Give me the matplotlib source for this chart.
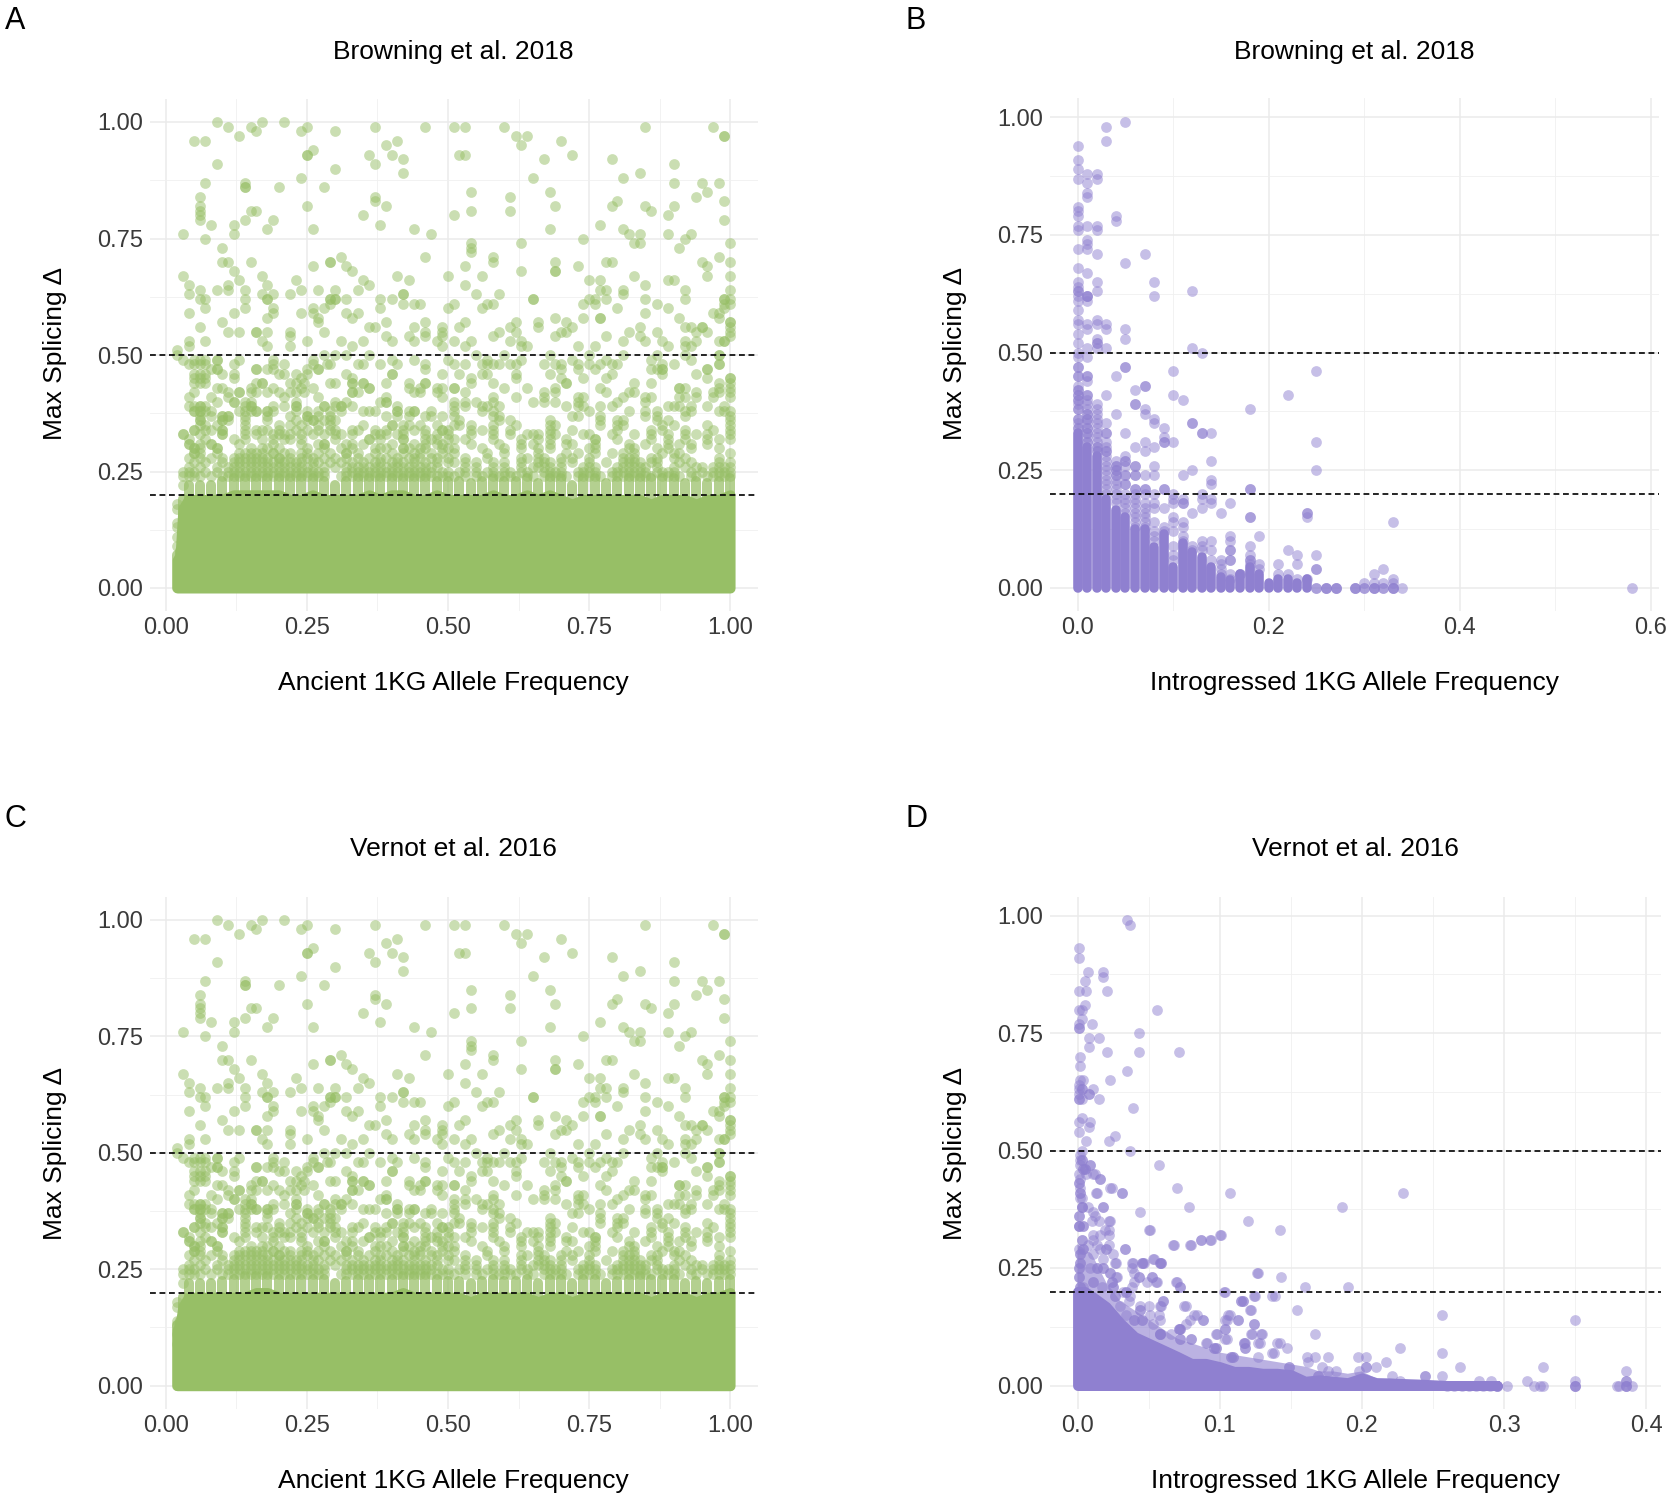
import matplotlib
matplotlib.use("Agg")
import matplotlib.pyplot as plt

plt.rcParams['font.family'] = ['Liberation Sans', 'DejaVu Sans']

W, H = 1670, 1500
GREEN = '#97BF66'
PURPLE = '#8F80D0'

titles = ['Browning et al. 2018', 'Browning et al. 2018', 'Vernot et al. 2016', 'Vernot et al. 2016']
letters = ['A', 'B', 'C', 'D']
xlabels = ['Ancient 1KG Allele Frequency', 'Introgressed 1KG Allele Frequency',
           'Ancient 1KG Allele Frequency', 'Introgressed 1KG Allele Frequency']
ylabel = 'Max Splicing Δ'
thresholds = [0.5, 0.2]

# ---- Ancient variants: points read from the upper, sparse part of the panel
anc_upper = [
 (.03,.76),(.05,.96),(.07,.96),(.09,1.0),(.11,.99),(.13,.97),(.15,.99),(.16,.98),(.17,1.0),(.21,1.0),(.24,.98),(.25,.99),
 (.26,.94),(.25,.93),(.25,.93),(.30,.98),(.37,.99),(.36,.93),(.37,.91),(.39,.95),(.40,.93),(.41,.96),(.42,.92),(.42,.89),
 (.46,.99),(.51,.99),(.53,.99),(.52,.93),(.53,.93),(.60,.99),(.62,.97),(.64,.97),(.63,.95),(.67,.92),(.70,.96),(.72,.93),
 (.65,.88),(.79,.92),(.81,.88),(.84,.89),(.85,.99),(.90,.91),(.97,.99),(.99,.97),(.99,.97),(.09,.91),(.07,.87),(.24,.88),
 (.30,.90),(.14,.87),(.14,.86),(.14,.86),(.20,.86),(.28,.86),(.06,.84),(.06,.82),(.06,.81),(.06,.80),(.06,.79),(.07,.75),
 (.08,.78),(.12,.78),(.12,.76),(.14,.79),(.15,.81),(.16,.81),(.19,.79),(.18,.77),(.25,.82),(.26,.77),(.35,.80),(.37,.84),
 (.37,.83),(.39,.82),(.38,.78),(.44,.77),(.47,.76),(.51,.80),(.54,.85),(.54,.81),(.61,.84),(.61,.81),(.68,.85),(.69,.82),
 (.68,.77),(.77,.78),(.79,.82),(.80,.83),(.81,.77),(.82,.76),(.84,.76),(.85,.82),(.86,.81),(.83,.74),(.84,.74),(.89,.80),
 (.89,.76),(.90,.82),(.90,.87),(.94,.84),(.95,.87),(.96,.85),(.98,.87),(.99,.83),(.99,.79),(.93,.76),(.92,.75),(.91,.73),
 (1.0,.74),(.74,.75),(.10,.73),(.10,.70),(.11,.70),(.15,.70),(.12,.68),(.13,.66),(.11,.65),(.11,.64),(.09,.64),(.03,.67),
 (.04,.65),(.04,.63),(.06,.64),(.06,.62),(.07,.62),(.07,.60),(.04,.59),(.10,.57),(.06,.56),(.11,.55),(.13,.55),(.16,.55),
 (.16,.55),(.18,.55),(.07,.53),(.04,.53),(.04,.52),(.02,.51),(.17,.67),(.18,.65),(.14,.64),(.14,.62),(.14,.60),(.17,.63),
 (.19,.63),(.18,.62),(.18,.62),(.19,.60),(.19,.59),(.18,.58),(.12,.59),(.22,.63),(.23,.66),(.24,.64),(.26,.69),(.29,.70),
 (.29,.70),(.31,.71),(.32,.69),(.33,.68),(.35,.66),(.36,.65),(.34,.64),(.27,.64),(.30,.64),(.29,.62),(.29,.62),(.30,.62),
 (.30,.62),(.32,.62),(.28,.60),(.29,.61),(.26,.60),(.26,.59),(.24,.59),(.27,.58),(.27,.57),(.32,.59),(.34,.59),(.33,.58),
 (.28,.55),(.22,.55),(.22,.54),(.22,.52),(.25,.53),(.18,.52),(.17,.53),(.38,.62),(.38,.60),(.40,.62),(.42,.63),(.42,.63),
 (.42,.61),(.44,.61),(.45,.61),(.41,.67),(.43,.66),(.39,.57),(.36,.56),(.37,.56),(.35,.53),(.31,.53),(.33,.52),(.39,.54),
 (.40,.53),(.46,.71),(.50,.67),(.50,.60),(.51,.61),(.53,.69),(.53,.65),(.54,.74),(.54,.73),(.54,.72),(.56,.67),(.58,.71),
 (.58,.70),(.55,.63),(.59,.63),(.57,.61),(.58,.61),(.56,.60),(.46,.57),(.46,.55),(.46,.54),(.44,.56),(.43,.54),(.44,.53),
 (.49,.56),(.49,.55),(.49,.54),(.48,.53),(.49,.52),(.52,.56),(.53,.57),(.51,.53),(.53,.52),(.54,.53),(.58,.54),(.59,.55),
 (.63,.74),(.63,.68),(.65,.62),(.65,.62),(.69,.70),(.69,.68),(.69,.68),(.73,.69),(.75,.66),(.77,.66),(.77,.64),(.78,.64),
 (.78,.70),(.79,.70),(.74,.61),(.75,.62),(.76,.62),(.76,.61),(.78,.62),(.80,.60),(.81,.64),(.81,.63),(.83,.67),(.85,.65),
 (.85,.62),(.87,.61),(.85,.59),(.89,.60),(.89,.66),(.90,.66),(.92,.64),(.92,.62),(.91,.58),(.95,.70),(.96,.69),(.96,.67),
 (.98,.71),(1.0,.70),(1.0,.67),(1.0,.64),(.99,.62),(.99,.62),(1.0,.62),(.99,.61),(1.0,.61),(.99,.60),(.97,.59),(.98,.59),
 (.98,.58),(1.0,.57),(1.0,.57),(1.0,.56),(1.0,.55),(1.0,.54),(.99,.53),(.99,.53),(.98,.53),(.62,.57),(.61,.56),(.62,.55),
 (.61,.53),(.63,.53),(.63,.52),(.64,.52),(.66,.57),(.66,.56),(.69,.58),(.71,.57),(.72,.56),(.70,.55),(.71,.55),(.69,.54),
 (.74,.58),(.77,.58),(.77,.58),(.78,.54),(.81,.53),(.82,.55),(.84,.56),(.84,.54),(.85,.53),(.87,.55),(.88,.53),(.89,.52),
 (.92,.56),(.93,.56),(.95,.56),(.95,.56),(.94,.55),(.96,.55),(.92,.53),(.92,.52),(.93,.52),(.94,.53),(.73,.52),(.76,.52),
 (.02,.18),(.02,.17),(.02,.14),(.02,.13),(.02,.11),(.02,.09),(.03,.33),(.03,.25),(.04,.28),(.04,.31),(.03,.22),(.03,.24),
]

# Ancient variants, y level followed by the x values read at that level
anc_rows = [
 (.50,[.02,.28,.30,.32,.36,.55,.60,.68,.75,.81,.87,.92,.98,.98]),
 (.49,[.03,.05,.06,.07,.09,.09,.13,.19,.26,.40,.44,.50,.57,.63,.72,.78,.86,.93]),
 (.48,[.04,.05,.06,.07,.12,.19,.21,.26,.285,.29,.34,.35,.38,.41,.46,.51,.53,.56,.57,.58,.59,.61,.62,.67,.69,.70,.73,.75,.77,.79,.80,.88,.90,.98,.98]),
 (.47,[.08,.09,.09,.16,.16,.18,.19,.25,.27,.27,.46,.70,.73,.76,.86,.87,.88,.88,.96,.96]),
 (.46,[.05,.06,.07,.10,.12,.20,.21,.23,.25,.32,.40,.40,.49,.52,.56,.57,.62,.68,.79,.88,.94]),
 (.45,[.05,.06,.07,.12,.24,.33,.54,.62,.70,.74,.78,.96,1.0,1.0]),
 (.44,[.05,.06,.07,.17,.17,.16,.22,.23,.245,.29,.30,.33,.33,.35,.35,.39,.43,.46,.46,.54,.58,.71,.71,.86,.83,.98,1.0]),
 (.43,[.09,.10,.15,.19,.24,.26,.36,.36,.43,.45,.48,.49,.51,.51,.60,.64,.69,.77,.91,.91,.92,.98,1.0]),
 (.42,[.05,.11,.13,.13,.16,.15,.18,.20,.22,.23,.245,.33,.33,.34,.44,.45,.48,.53,.67,.69,.78,.83,.82,.94,.97,.98,1.0]),
 (.41,[.04,.08,.11,.21,.27,.49,.39,.58,.62,.67,.73,.74,.81,.85,.86,.91,.92,.94,.97,1.0]),
 (.40,[.09,.12,.12,.14,.15,.23,.30,.32,.38,.39,.39,.51,.53,.55,.58,.65,.67,.69,.73,.80,.85]),
 (.39,[.04,.05,.06,.06,.07,.14,.15,.15,.19,.21,.23,.23,.28,.28,.30,.31,.31,.33,.41,.51,.53,.56,.57,.59,.71,.73,.74,.77,.79,.89,.90,.91,.93,.96,.99]),
 (.38,[.05,.05,.06,.06,.07,.08,.13,.14,.15,.16,.16,.18,.18,.19,.23,.25,.27,.29,.31,.35,.36,.37,.41,.41,.43,.44,.44,.47,.51,.56,.58,.75,.82,.85,.87,.92,.93,.98,.99,1.0]),
 (.37,[.06,.08,.10,.10,.11,.11,.14,.18,.22,.25,.25,.27,.29,.39,.41,.43,.46,.47,.49,.51,.58,.59,.72,.73,.77,.85,.87,.92,1.0]),
 (.36,[.06,.06,.10,.10,.11,.14,.18,.23,.26,.26,.25,.28,.29,.30,.52,.59,.61,.68,.77,.80,.81,.87,.89,1.0]),
 (.35,[.06,.07,.09,.14,.20,.22,.24,.27,.29,.35,.40,.40,.42,.43,.45,.48,.51,.52,.54,.58,.62,.68,.69,.77,.80,.81,.88,.90,.96,1.0]),
 (.34,[.05,.05,.07,.08,.10,.10,.14,.16,.17,.18,.20,.23,.25,.27,.29,.30,.33,.34,.37,.39,.42,.44,.46,.49,.49,.50,.54,.56,.58,.61,.68,.72,.80,.86,.88,.92,.97,1.0]),
 (.33,[.03,.06,.10,.10,.14,.16,.19,.20,.21,.22,.24,.26,.28,.30,.31,.33,.37,.38,.39,.41,.42,.46,.48,.50,.54,.58,.61,.64,.65,.66,.68,.69,.74,.75,.79,.83,.86,.89,.92,.94,.96,1.0]),
 (.32,[.04,.07,.12,.14,.17,.19,.21,.22,.24,.30,.36,.36,.38,.42,.42,.46,.47,.48,.50,.51,.53,.58,.63,.66,.68,.71,.76,.76,.80,.86,.89,.92,.96,.98,1.0]),
 (.31,[.04,.06,.08,.08,.13,.19,.24,.27,.28,.28,.32,.33,.35,.40,.44,.46,.48,.49,.54,.59,.63,.65,.68,.71,.72,.76,.82,.85,.89,.91,.93,.96]),
 (.30,[.05,.05,.06,.09,.09,.15,.17,.18,.20,.25,.28,.31,.33,.37,.38,.39,.42,.42,.43,.45,.46,.49,.50,.51,.56,.60,.63,.66,.68,.75,.76,.82,.83,.87,.89,.93,.98]),
 (.29,[.05,.05,.06,.09,.13,.14,.15,.16,.17,.19,.19,.21,.22,.24,.25,.27,.29,.32,.32,.34,.37,.40,.42,.44,.45,.47,.49,.51,.57,.60,.66,.71,.73,.76,.79,.81,.83,.88,.90,.91,1.0]),
 (.28,[.06,.08,.10,.12,.13,.14,.15,.16,.17,.18,.20,.20,.22,.24,.25,.26,.28,.30,.32,.34,.36,.38,.39,.41,.43,.44,.45,.47,.48,.50,.53,.57,.63,.64,.66,.67,.70,.72,.75,.81,.82,.83,.86,.87,.90,.92,.98]),
 (.27,[.05,.07,.10,.12,.13,.14,.15,.16,.17,.18,.19,.20,.21,.22,.23,.24,.26,.27,.29,.31,.33,.35,.37,.38,.40,.41,.42,.44,.46,.48,.50,.51,.53,.55,.58,.60,.63,.66,.67,.68,.70,.72,.75,.78,.81,.82,.83,.84,.86,.87,.91,.93,.98,1.0]),
 (.26,[.04,.06,.09,.11,.12,.13,.14,.15,.16,.17,.18,.19,.20,.21,.22,.23,.24,.25,.26,.28,.30,.32,.33,.34,.35,.36,.37,.38,.39,.40,.41,.42,.43,.44,.45,.46,.47,.48,.53,.55,.58,.60,.63,.65,.66,.67,.68,.70,.74,.75,.76,.80,.81,.82,.83,.84,.85,.87,.90,.92,.94,.95,.97,.98,.99,1.0]),
 (.25,[.04,.05,.07,.09,.11,.12,.13,.14,.15,.16,.17,.18,.19,.20,.21,.22,.23,.24,.25,.26,.27,.28,.32,.33,.34,.35,.36,.37,.38,.39,.40,.41,.42,.43,.44,.45,.46,.47,.49,.50,.52,.53,.55,.57,.58,.60,.61,.63,.64,.67,.68,.69,.70,.73,.74,.75,.76,.79,.80,.81,.82,.83,.84,.85,.87,.88,.89,.90,.93,.95,.97,.98,.99,1.0]),
 (.24,[.04,.05,.06,.08,.10,.11,.12,.13,.14,.15,.16,.17,.18,.19,.20,.21,.22,.23,.24,.25,.26,.27,.28,.31,.32,.33,.34,.35,.36,.37,.38,.39,.40,.41,.42,.43,.44,.45,.46,.47,.48,.49,.50,.51,.53,.55,.56,.58,.59,.60,.61,.62,.64,.65,.67,.68,.69,.70,.71,.73,.74,.75,.76,.77,.79,.80,.81,.82,.83,.84,.85,.86,.88,.89,.90,.91,.93,.94,.96,.97,.98,.99,1.0]),
]

# Ancient: columns of the mottled zone and top of the solid band below it
anc_band_x = [.02,.025,.03,.04,.06,.08,.10,.12,.14,.16,.18,.20,.22,.24,.26,.28,.30,.32,.34,.36,.38,.40,.42,.44,.46,.48,.50,.52,.54,.56,.58,.60,.62,.64,.66,.68,.70,.72,.74,.76,.78,.80,.82,.84,.86,.88,.90,.92,.94,.96,.98,1.0]
anc_solid_top = [.06,.07,.17,.19,.19,.19,.19,.20,.20,.20,.20,.20,.19,.19,.20,.19,.19,.19,.19,.20,.19,.20,.20,.19,.19,.20,.19,.19,.19,.19,.20,.19,.19,.20,.19,.20,.19,.18,.19,.19,.19,.19,.19,.19,.18,.19,.19,.19,.18,.19,.19,.20]
anc_soft_top = [.07,.08,.19,.22,.22,.22,.23,.235,.235,.235,.235,.235,.235,.235,.235,.23,.22,.23,.235,.235,.235,.235,.235,.235,.235,.23,.23,.23,.225,.23,.235,.23,.23,.235,.225,.235,.235,.22,.235,.235,.225,.23,.235,.235,.235,.235,.235,.225,.23,.225,.23,.235]
ver_anc_solid_top = [.12,.13,.17,.19,.19,.19,.19,.19,.19,.20,.20,.19,.19,.19,.19,.19,.19,.19,.19,.19,.19,.19,.20,.19,.19,.19,.19,.19,.18,.19,.19,.19,.19,.19,.18,.19,.19,.18,.19,.19,.19,.19,.19,.19,.18,.19,.19,.19,.18,.19,.19,.20]
ver_anc_soft_top = [.13,.14,.19,.22,.22,.22,.225,.23,.235,.235,.235,.23,.23,.23,.23,.23,.22,.225,.23,.23,.23,.23,.235,.235,.235,.23,.225,.225,.22,.225,.23,.225,.225,.23,.22,.23,.23,.22,.23,.23,.22,.225,.23,.235,.23,.23,.23,.22,.225,.22,.225,.23]

# ---- Browning introgressed: solid columns, x and height of the solid part
bro_col_x = [0,.01,.02,.03,.04,.05,.06,.07,.08,.09,.10,.11,.12,.13,.14,.15,.16,.17,.18,.19,.20,.21,.22,.23,.24]
bro_col_top = [.33,.30,.28,.19,.165,.15,.125,.125,.087,.115,.045,.095,.077,.066,.045,.023,.016,.03,.045,.03,.01,.02,.02,.01,.02]
bro_pts = [
 (0,.94),(0,.91),(0,.89),(0,.87),(0,.81),(0,.80),(0,.79),(0,.77),(0,.76),(0,.72),(0,.68),(0,.65),(0,.64),(0,.63),(0,.63),(0,.62),(0,.61),(0,.59),(0,.57),(0,.56),(0,.54),(0,.52),(0,.50),(0,.49),(0,.47),(0,.47),(0,.45),(0,.45),(0,.43),
 (0,.42),(0,.42),(0,.41),(0,.41),(0,.40),(0,.40),(0,.39),(0,.38),(0,.38),(0,.36),(0,.36),(0,.35),(0,.34),(0,.34),
 (.01,.88),(.01,.86),(.01,.84),(.01,.83),(.01,.77),(.01,.74),(.01,.73),(.01,.72),(.01,.67),(.01,.62),(.01,.62),(.01,.62),(.01,.61),(.01,.56),(.01,.55),(.01,.51),(.01,.49),(.01,.45),(.01,.45),(.01,.44),(.01,.41),(.01,.41),(.01,.40),(.01,.39),(.01,.38),
 (.01,.37),(.01,.37),(.01,.36),(.01,.36),(.01,.35),(.01,.34),(.01,.34),(.01,.33),(.01,.33),(.01,.32),(.01,.31),(.01,.31),
 (.02,.88),(.02,.87),(.02,.77),(.02,.76),(.02,.71),(.02,.65),(.02,.63),(.02,.57),(.02,.56),(.02,.53),(.02,.52),(.02,.52),(.02,.51),(.02,.39),(.02,.38),(.02,.37),(.02,.36),(.02,.35),(.02,.34),(.02,.33),(.02,.32),(.02,.31),(.02,.30),(.02,.30),(.02,.29),(.02,.29),
 (.03,.98),(.03,.95),(.03,.56),(.03,.55),(.03,.51),(.03,.41),(.03,.35),(.03,.33),(.03,.33),(.03,.31),(.03,.30),(.03,.29),(.03,.29),(.03,.28),(.03,.27),(.03,.26),(.03,.25),(.03,.24),(.03,.23),(.03,.22),(.03,.21),(.03,.20),
 (.04,.79),(.04,.78),(.04,.45),(.04,.37),(.04,.27),(.04,.26),(.04,.26),(.04,.25),(.04,.25),(.04,.24),(.04,.24),(.04,.23),(.04,.22),(.04,.21),(.04,.20),(.04,.19),(.04,.18),
 (.05,.99),(.05,.69),(.05,.55),(.05,.53),(.05,.47),(.05,.47),(.05,.33),(.05,.28),(.05,.27),(.05,.27),(.05,.26),(.05,.24),(.05,.24),(.05,.22),(.05,.22),(.05,.20),(.05,.19),(.05,.18),(.05,.17),(.05,.16),
 (.06,.42),(.06,.39),(.06,.39),(.06,.30),(.06,.26),(.06,.26),(.06,.24),(.06,.24),(.06,.21),(.06,.21),(.06,.20),(.06,.19),(.06,.18),(.06,.17),(.06,.16),(.06,.15),(.06,.14),(.06,.13),
 (.07,.71),(.07,.43),(.07,.43),(.07,.38),(.07,.37),(.07,.31),(.07,.29),(.07,.24),(.07,.21),(.07,.21),(.07,.20),(.07,.18),(.07,.17),(.07,.16),(.07,.15),(.07,.14),(.07,.13),
 (.08,.65),(.08,.62),(.08,.36),(.08,.35),(.08,.30),(.08,.26),(.08,.24),(.08,.20),(.08,.18),(.08,.17),(.08,.14),(.08,.12),(.08,.11),(.08,.10),
 (.09,.34),(.09,.32),(.09,.31),(.09,.31),(.09,.21),(.09,.21),(.09,.17),(.09,.13),(.09,.12),
 (.10,.46),(.10,.41),(.10,.31),(.10,.20),(.10,.19),(.10,.18),(.10,.15),(.10,.14),(.10,.12),(.10,.09),(.10,.07),(.10,.06),
 (.11,.40),(.11,.24),(.11,.19),(.11,.18),(.11,.18),(.11,.14),(.11,.13),(.11,.11),(.11,.10),
 (.12,.63),(.12,.51),(.12,.35),(.12,.35),(.12,.25),(.12,.16),(.12,.09),(.12,.08),
 (.13,.50),(.13,.33),(.13,.33),(.13,.20),(.13,.19),(.13,.17),(.13,.10),(.13,.09),(.13,.08),
 (.14,.33),(.14,.27),(.14,.23),(.14,.22),(.14,.19),(.14,.18),(.14,.10),(.14,.08),(.14,.06),
 (.15,.16),(.15,.06),(.15,.05),(.15,.04),(.15,.03),
 (.16,.18),(.16,.11),(.16,.10),(.16,.08),(.16,.08),(.16,.06),(.16,.06),(.16,.03),(.16,.02),
 (.17,.03),(.17,.03),(.18,.38),(.18,.21),(.18,.21),(.18,.15),(.18,.15),(.18,.09),(.18,.07),(.18,.06),(.18,.06),(.18,.05),
 (.19,.11),(.19,.05),(.19,.04),(.21,.05),(.21,.03),(.22,.41),(.22,.08),(.22,.03),(.23,.07),(.23,.05),(.23,.02),
 (.24,.16),(.24,.16),(.24,.15),(.24,.02),(.25,.46),(.25,.31),(.25,.25),(.25,.07),(.25,.04),(.25,.04),
 (.25,0),(.25,0),(.26,0),(.26,0),(.26,0),(.27,0),(.27,0),(.27,0),(.29,0),(.29,0),(.29,0),(.30,0),(.30,0),(.31,0),(.31,0),(.31,0),(.32,0),(.32,0),(.33,0),(.33,0),(.33,0),
 (.30,.01),(.31,.03),(.31,.01),(.32,.04),(.32,.01),(.33,.14),(.33,.02),(.33,.01),(.34,0),(.58,0),
]

# ---- Vernot introgressed: top of the dense wedge, of the mottled rim, and sparse points
ver_wedge_x = [0,.005,.01,.02,.03,.04,.05,.06,.07,.08,.09,.10,.11,.12,.13,.14,.15,.16,.17,.18,.19,.20,.21,.22,.24,.26,.295]
ver_wedge_top = [.20,.20,.19,.168,.133,.104,.09,.076,.062,.047,.047,.04,.03,.03,.026,.026,.023,.009,.012,.009,.006,.016,.006,.005,.003,0,0]
ver_rim_top = [.30,.29,.28,.22,.18,.16,.14,.12,.10,.09,.08,.07,.065,.06,.055,.05,.045,.04,.03,.03,.025,.03,.015,.015,.01,.005,.005]
ver_pts = [
 (.035,.99),(.037,.98),(.001,.93),(.001,.91),(.007,.88),(.018,.88),(.018,.87),(.005,.86),(.001,.84),(.006,.84),(.021,.84),(.005,.81),(.001,.80),(.003,.80),(.056,.80),(.003,.78),(.001,.77),(.01,.77),(.001,.76),(.001,.76),(.043,.75),(.008,.74),(.015,.74),(.008,.72),(.021,.71),(.043,.71),(.071,.71),(.002,.70),(.002,.68),(.035,.67),(.023,.65),(.002,.65),(.004,.65),(.001,.64),(.001,.63),(.003,.63),(.003,.63),(.011,.63),(.008,.62),(.008,.62),(.001,.62),(.001,.61),(.001,.61),(.003,.61),(.015,.61),(.039,.59),(.003,.57),(.001,.56),(.009,.56),(.008,.55),(.001,.54),(.006,.52),(.026,.53),(.022,.52),(.003,.50),(.037,.50),(.002,.49),(.003,.48),(.003,.48),(.057,.47),(.002,.47),(.009,.47),(.005,.46),(.005,.46),(.001,.45),(.006,.45),(.012,.45),(.002,.44),(.016,.44),(.001,.43),(.001,.43),(.002,.42),(.024,.42),(.07,.42),(.002,.41),(.002,.41),(.014,.41),(.031,.41),(.107,.41),(.229,.41),(.003,.40),
 (.078,.38),(.018,.38),(.186,.38),(.044,.37),(.12,.35),(.023,.35),(.142,.33),(.051,.33),(.101,.32),(.094,.31),(.087,.31),(.08,.30),(.068,.30),(.033,.29),(.054,.27),(.059,.26),(.059,.26),(.046,.26),(.039,.26),(.027,.26),(.127,.24),(.143,.23),(.052,.23),(.028,.23),(.043,.23),(.07,.22),(.056,.22),(.16,.21),(.19,.21),(.072,.21),(.104,.20),(.116,.18),(.116,.18),(.125,.19),(.139,.19),(.06,.18),(.076,.17),(.122,.16),(.154,.16),(.256,.15),(.35,.14),(.107,.15),(.084,.15),(.105,.14),(.088,.14),(.113,.14),(.124,.13),(.104,.12),(.071,.12),(.071,.12),(.058,.11),(.058,.11),(.167,.11),(.123,.11),(.13,.11),(.098,.11),(.08,.10),(.105,.10),(.118,.09),(.128,.09),(.142,.09),(.147,.08),(.227,.08),(.091,.09),(.097,.08),(.097,.08),(.118,.08),(.256,.07),(.161,.06),(.167,.06),(.176,.06),(.197,.06),(.203,.06),(.217,.05),(.127,.06),(.138,.07),(.109,.06),(.109,.06),(.269,.04),(.327,.04),(.203,.04),(.203,.04),(.172,.04),(.149,.04),(.149,.04),(.162,.05),(.176,.03),(.182,.03),(.21,.04),(.198,.03),(.169,.02),(.169,.02),(.386,.03),(.244,.02),(.244,.02),(.256,.02),(.221,.02),(.282,.01),(.291,.01),(.316,.01),(.35,.01),(.386,.01),(.386,.01),(.227,.01),
 (.26,0),(.265,0),(.27,0),(.275,0),(.28,0),(.285,0),(.29,0),(.295,0),(.295,0),(.295,0),(.302,0),(.321,0),(.325,0),(.327,0),(.35,0),(.35,0),(.35,0),(.379,0),(.381,0),(.386,0),(.386,0),(.386,0),(.39,0),
 (.002,.48),(.009,.47),(.004,.46),(.004,.46),(.011,.45),(.016,.44),(.013,.41),(.023,.42),(.031,.41),(.002,.40),(.003,.38),(.003,.38),(.003,.38),(.007,.38),(.018,.38),(.011,.37),(.001,.36),(.001,.36),(.012,.36),(.001,.34),(.001,.34),(.001,.34),(.004,.34),(.004,.34),(.01,.35),(.015,.35),(.022,.35),(.022,.33),(.019,.33),(.05,.33),(.011,.32),(.016,.32),(.022,.32),(.003,.31),(.003,.31),(.011,.31),(.007,.30),(.014,.30),(.022,.30),(.067,.30),(.079,.30),(.087,.31),(.093,.31),(.1,.32),(.001,.29),(.004,.29),(.004,.29),(.02,.29),(.02,.29),(.033,.29),(.016,.29),(.011,.28),(.025,.28),(.002,.28),(.002,.28),(.053,.27),(.018,.27),(.002,.26),(.002,.26),(.026,.26),(.038,.26),(.045,.26),(.045,.26),(.047,.26),(.058,.26),(.058,.26),(.009,.25),(.014,.25),(.014,.25),(.001,.25),(.001,.25),(.018,.25),(.018,.25),(.038,.25),(.023,.24),(.023,.24),(.04,.24),(.052,.23),(.126,.24),(.001,.23),(.001,.23),(.027,.23),(.043,.23),(.04,.22),(.049,.22),(.055,.22),(.069,.22),(.024,.22),(.024,.22),(.011,.22),(.011,.22),(.002,.21),(.002,.21),(.004,.21),(.072,.21),(.038,.21),(.025,.21),(.025,.21),(.017,.21),(.103,.20),(.034,.20),(.034,.20),(.032,.20),(.026,.19),(.026,.19),(.124,.19),(.137,.19),(.037,.19),(.036,.18),(.06,.18),(.058,.17),(.115,.18),(.115,.18),(.03,.17),(.044,.17),(.05,.17),(.075,.17),(.044,.16),(.044,.16),(.059,.17),(.082,.15),(.106,.15),(.121,.16),(.034,.15),(.04,.14),(.04,.14),(.045,.14),(.045,.14),(.051,.15),(.057,.15),(.058,.14),(.079,.14),(.088,.14),(.104,.14),(.113,.14),(.053,.13),(.076,.13),(.124,.13),(.104,.12),(.072,.12),(.072,.12),(.097,.11),(.058,.11),(.058,.11),(.122,.11),(.129,.11),(.066,.11),(.08,.10),(.072,.10),(.072,.10),(.104,.10),(.117,.09),(.117,.09),(.127,.09),(.14,.09),(.09,.09),(.096,.08),(.096,.08),(.118,.08),(.137,.07),(.108,.06),(.108,.06),
]

anc_xlim, anc_ylim = (-0.029, 1.049), (-0.05, 1.05)
bro_xlim, bro_ylim = (-0.029, 0.609), (-0.05, 1.04)
ver_xlim, ver_ylim = (-0.0194, 0.41), (-0.05, 1.04)

MS = 60
DIAM_PT = 7.2
LABEL_FS = 19
TICK_FS = 17


def make_axes(left, right, top, bottom):
    return fig.add_axes([left / W, 1 - bottom / H, (right - left) / W, (bottom - top) / H])


def style(ax, xlim, ylim, xmaj, xmin, ymaj, ymin, xfmt, idx, ylab_x, title_y, xlab_y, ylab_y, letter_xy):
    ax.set_xlim(xlim)
    ax.set_ylim(ylim)
    ax.set_xticks(xmaj)
    ax.set_xticklabels([xfmt % v for v in xmaj])
    ax.set_xticks(xmin, minor=True)
    ax.set_yticks(ymaj)
    ax.set_yticklabels(['%.2f' % v for v in ymaj])
    ax.set_yticks(ymin, minor=True)
    ax.grid(True, which='major', color='#EBEBEB', lw=1.1, zorder=0)
    ax.grid(True, which='minor', color='#F0F0F0', lw=0.6, zorder=0)
    ax.set_axisbelow(True)
    for s in ax.spines.values():
        s.set_visible(False)
    ax.tick_params(which='both', length=0)
    ax.tick_params(axis='both', labelsize=TICK_FS, labelcolor='#3A3A3A')
    ax.tick_params(axis='x', pad=4)
    ax.tick_params(axis='y', pad=5)
    for y in thresholds:
        ax.axhline(y, color='black', lw=1.2, dashes=(3.5, 2.2), zorder=6)
    bb = ax.get_position()
    cx = (bb.x0 + bb.x1) / 2
    fig.text(cx, 1 - title_y / H, titles[idx], ha='center', va='center', fontsize=LABEL_FS, color='black')
    fig.text(cx, 1 - xlab_y / H, xlabels[idx], ha='center', va='center', fontsize=LABEL_FS, color='black')
    fig.text(ylab_x / W, 1 - ylab_y / H, ylabel, rotation=90, ha='center', va='center', fontsize=LABEL_FS, color='black')
    fig.text(letter_xy[0] / W, 1 - letter_xy[1] / H, letters[idx], ha='left', va='center', fontsize=22, color='black')


def scatter_pairs(ax, pairs, color):
    xs, ys = zip(*pairs)
    ax.scatter(xs, ys, s=MS, c=color, alpha=0.5, linewidths=0, zorder=3)


def draw_ancient(ax, solid_top, soft_top):
    ax.vlines(anc_band_x, 0, soft_top, color=GREEN, alpha=0.72, lw=DIAM_PT, capstyle='round', zorder=2)
    scatter_pairs(ax, anc_upper, GREEN)
    for y, xs in anc_rows:
        ax.scatter(xs, [y] * len(xs), s=MS, c=GREEN, alpha=0.5, linewidths=0, zorder=3)
    ax.fill_between(anc_band_x, 0, solid_top, facecolor=GREEN, edgecolor=GREEN, lw=DIAM_PT, zorder=4, joinstyle='round')


fig = plt.figure(figsize=(W / 100, H / 100), dpi=100, facecolor='white')

anc_xt = [0, .25, .5, .75, 1]
anc_xm = [.125, .375, .625, .875]
yt = [0, .25, .5, .75, 1]
ym = [.125, .375, .625, .875]

# A
axA = make_axes(149.6, 757.7, 98.7, 611.3)
draw_ancient(axA, anc_solid_top, anc_soft_top)
style(axA, anc_xlim, anc_ylim, anc_xt, anc_xm, yt, ym, '%.2f', 0, 55, 52, 683, 354, (5, 21))

# B
axB = make_axes(1050, 1659.3, 98.5, 611.5)
axB.vlines(bro_col_x, 0, bro_col_top, color=PURPLE, lw=DIAM_PT * 0.96, capstyle='round', zorder=4)
scatter_pairs(axB, bro_pts, PURPLE)
style(axB, bro_xlim, bro_ylim, [0, .2, .4, .6], [.1, .3, .5], yt, ym, '%.1f', 1, 955, 52, 683, 354, (906, 21))

# C
axC = make_axes(149.6, 757.7, 896.7, 1409)
draw_ancient(axC, ver_anc_solid_top, ver_anc_soft_top)
style(axC, anc_xlim, anc_ylim, anc_xt, anc_xm, yt, ym, '%.2f', 2, 55, 849, 1481, 1153, (5, 819))

# D
axD = make_axes(1050, 1660.6, 896.7, 1409)
axD.fill_between(ver_wedge_x, 0, ver_rim_top, facecolor=PURPLE, edgecolor='none', alpha=0.6, zorder=2)
axD.fill_between(ver_wedge_x, 0, ver_wedge_top, facecolor=PURPLE, edgecolor=PURPLE, lw=DIAM_PT, zorder=4, joinstyle='round')
scatter_pairs(axD, ver_pts, PURPLE)
style(axD, ver_xlim, ver_ylim, [0, .1, .2, .3, .4], [.05, .15, .25, .35], yt, ym, '%.1f', 3, 955, 849, 1481, 1153, (906, 819))

fig.savefig('out.png', dpi=100, facecolor='white')
